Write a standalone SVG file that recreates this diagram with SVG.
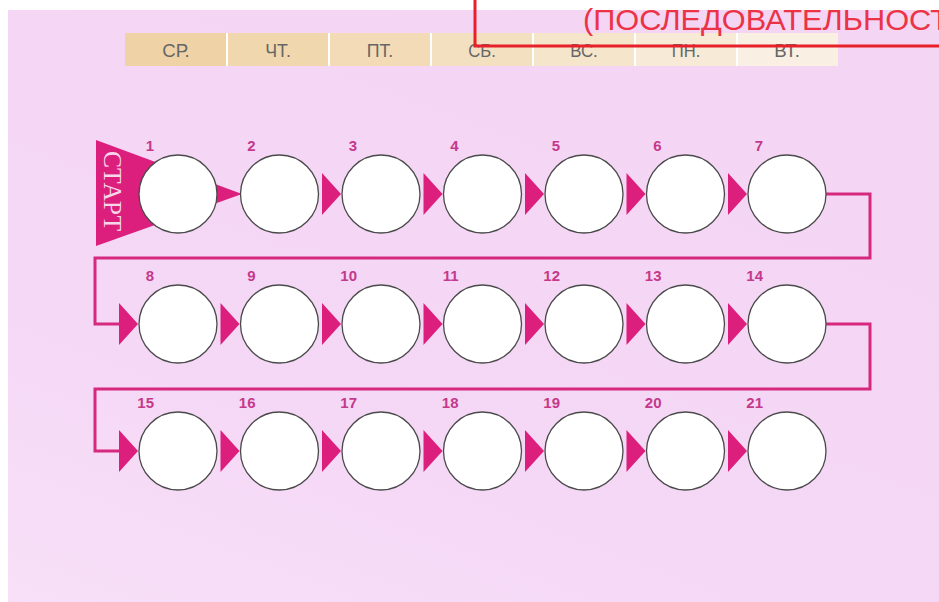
<svg xmlns="http://www.w3.org/2000/svg" width="939" height="602" viewBox="0 0 939 602">
<defs>
<linearGradient id="bg" x1="0" y1="1" x2="0.6" y2="0">
<stop offset="0" stop-color="#f8e0f8"/>
<stop offset="0.35" stop-color="#f5d8f6"/>
<stop offset="1" stop-color="#f4d6f4"/>
</linearGradient>
<polygon id="arr" points="-59,-21 -40,0 -59,21"/>
</defs>
<style>
.cell-t{font-family:"Liberation Sans",Arial,sans-serif;font-size:19px;fill:#666;text-anchor:middle}
.num{font-family:"Liberation Sans",Arial,sans-serif;font-size:15px;font-weight:bold;fill:#c4398b;text-anchor:end}
.c{fill:#fff;stroke:#4a4a4a;stroke-width:1.3}
.a{fill:#dc1f7c}
.ln{fill:none;stroke:#d6287f;stroke-width:3}
</style>
<rect width="939" height="602" fill="#fff"/>
<rect x="8" y="10" width="931" height="592" fill="url(#bg)"/>

<g id="days">
<rect x="125" y="33" width="102" height="33" fill="#efd3a7"/>
<rect x="227" y="33" width="102" height="33" fill="#f0d7ad"/>
<rect x="329" y="33" width="102" height="33" fill="#f2dbb6"/>
<rect x="431" y="33" width="102" height="33" fill="#f3e0c0"/>
<rect x="533" y="33" width="102" height="33" fill="#f5e5cb"/>
<rect x="635" y="33" width="102" height="33" fill="#f7ead6"/>
<rect x="737" y="33" width="101" height="33" fill="#f9efe2"/>
<g stroke="#fff" stroke-width="2">
<line x1="227" y1="33" x2="227" y2="66"/>
<line x1="329" y1="33" x2="329" y2="66"/>
<line x1="431" y1="33" x2="431" y2="66"/>
<line x1="533" y1="33" x2="533" y2="66"/>
<line x1="635" y1="33" x2="635" y2="66"/>
<line x1="737" y1="33" x2="737" y2="66"/>
</g>
<text class="cell-t" x="176" y="57" textLength="27.5" lengthAdjust="spacingAndGlyphs">СР.</text>
<text class="cell-t" x="278" y="57" textLength="25.7" lengthAdjust="spacingAndGlyphs">ЧТ.</text>
<text class="cell-t" x="380" y="57" textLength="26.6" lengthAdjust="spacingAndGlyphs">ПТ.</text>
<text class="cell-t" x="482" y="57" textLength="27.5" lengthAdjust="spacingAndGlyphs">СБ.</text>
<text class="cell-t" x="584" y="57" textLength="27.5" lengthAdjust="spacingAndGlyphs">ВС.</text>
<text class="cell-t" x="686" y="57" textLength="28.5" lengthAdjust="spacingAndGlyphs">ПН.</text>
<text class="cell-t" x="787" y="57" textLength="25.7" lengthAdjust="spacingAndGlyphs">ВТ.</text>
</g>

<g id="start">
<polygon class="a" points="96,140 242,194 96,246"/>
<text transform="translate(104,151) rotate(90)" font-family="'Liberation Serif','Times New Roman',serif" font-size="26" fill="#f8d6ea" textLength="80" lengthAdjust="spacingAndGlyphs">СТАРТ</text>
</g>

<g id="connectors">
<path class="ln" d="M826 194 H870 V258 H95 V324 H121"/>
<path class="ln" d="M826 324 H870 V389 H95 V451 H121"/>
<use href="#arr" class="a" x="381" y="194"/>
<use href="#arr" class="a" x="482.5" y="194"/>
<use href="#arr" class="a" x="584" y="194"/>
<use href="#arr" class="a" x="685.5" y="194"/>
<use href="#arr" class="a" x="787" y="194"/>
<use href="#arr" class="a" x="178" y="324"/>
<use href="#arr" class="a" x="279.5" y="324"/>
<use href="#arr" class="a" x="381" y="324"/>
<use href="#arr" class="a" x="482.5" y="324"/>
<use href="#arr" class="a" x="584" y="324"/>
<use href="#arr" class="a" x="685.5" y="324"/>
<use href="#arr" class="a" x="787" y="324"/>
<use href="#arr" class="a" x="178" y="451"/>
<use href="#arr" class="a" x="279.5" y="451"/>
<use href="#arr" class="a" x="381" y="451"/>
<use href="#arr" class="a" x="482.5" y="451"/>
<use href="#arr" class="a" x="584" y="451"/>
<use href="#arr" class="a" x="685.5" y="451"/>
<use href="#arr" class="a" x="787" y="451"/>
</g>

<g id="n1"><circle class="c" cx="178" cy="194" r="39"/><text class="num" x="154" y="151">1</text></g>
<g id="n2"><circle class="c" cx="279.5" cy="194" r="39"/><text class="num" x="255.5" y="151">2</text></g>
<g id="n3"><circle class="c" cx="381" cy="194" r="39"/><text class="num" x="357" y="151">3</text></g>
<g id="n4"><circle class="c" cx="482.5" cy="194" r="39"/><text class="num" x="458.5" y="151">4</text></g>
<g id="n5"><circle class="c" cx="584" cy="194" r="39"/><text class="num" x="560" y="151">5</text></g>
<g id="n6"><circle class="c" cx="685.5" cy="194" r="39"/><text class="num" x="661.5" y="151">6</text></g>
<g id="n7"><circle class="c" cx="787" cy="194" r="39"/><text class="num" x="763" y="151">7</text></g>

<g id="n8"><circle class="c" cx="178" cy="324" r="39"/><text class="num" x="154" y="281">8</text></g>
<g id="n9"><circle class="c" cx="279.5" cy="324" r="39"/><text class="num" x="255.5" y="281">9</text></g>
<g id="n10"><circle class="c" cx="381" cy="324" r="39"/><text class="num" x="357" y="281">10</text></g>
<g id="n11"><circle class="c" cx="482.5" cy="324" r="39"/><text class="num" x="458.5" y="281">11</text></g>
<g id="n12"><circle class="c" cx="584" cy="324" r="39"/><text class="num" x="560" y="281">12</text></g>
<g id="n13"><circle class="c" cx="685.5" cy="324" r="39"/><text class="num" x="661.5" y="281">13</text></g>
<g id="n14"><circle class="c" cx="787" cy="324" r="39"/><text class="num" x="763" y="281">14</text></g>

<g id="n15"><circle class="c" cx="178" cy="451" r="39"/><text class="num" x="154" y="408">15</text></g>
<g id="n16"><circle class="c" cx="279.5" cy="451" r="39"/><text class="num" x="255.5" y="408">16</text></g>
<g id="n17"><circle class="c" cx="381" cy="451" r="39"/><text class="num" x="357" y="408">17</text></g>
<g id="n18"><circle class="c" cx="482.5" cy="451" r="39"/><text class="num" x="458.5" y="408">18</text></g>
<g id="n19"><circle class="c" cx="584" cy="451" r="39"/><text class="num" x="560" y="408">19</text></g>
<g id="n20"><circle class="c" cx="685.5" cy="451" r="39"/><text class="num" x="661.5" y="408">20</text></g>
<g id="n21"><circle class="c" cx="787" cy="451" r="39"/><text class="num" x="763" y="408">21</text></g>

<g id="overlay">
<text x="583" y="30" font-family="'Liberation Sans',Arial,sans-serif" font-size="29" fill="#ec3346" textLength="366" lengthAdjust="spacingAndGlyphs">(ПОСЛЕДОВАТЕЛЬНОСТ</text>
<path d="M475 0 V46 H939" fill="none" stroke="#e8202a" stroke-width="3"/>
</g>
</svg>
